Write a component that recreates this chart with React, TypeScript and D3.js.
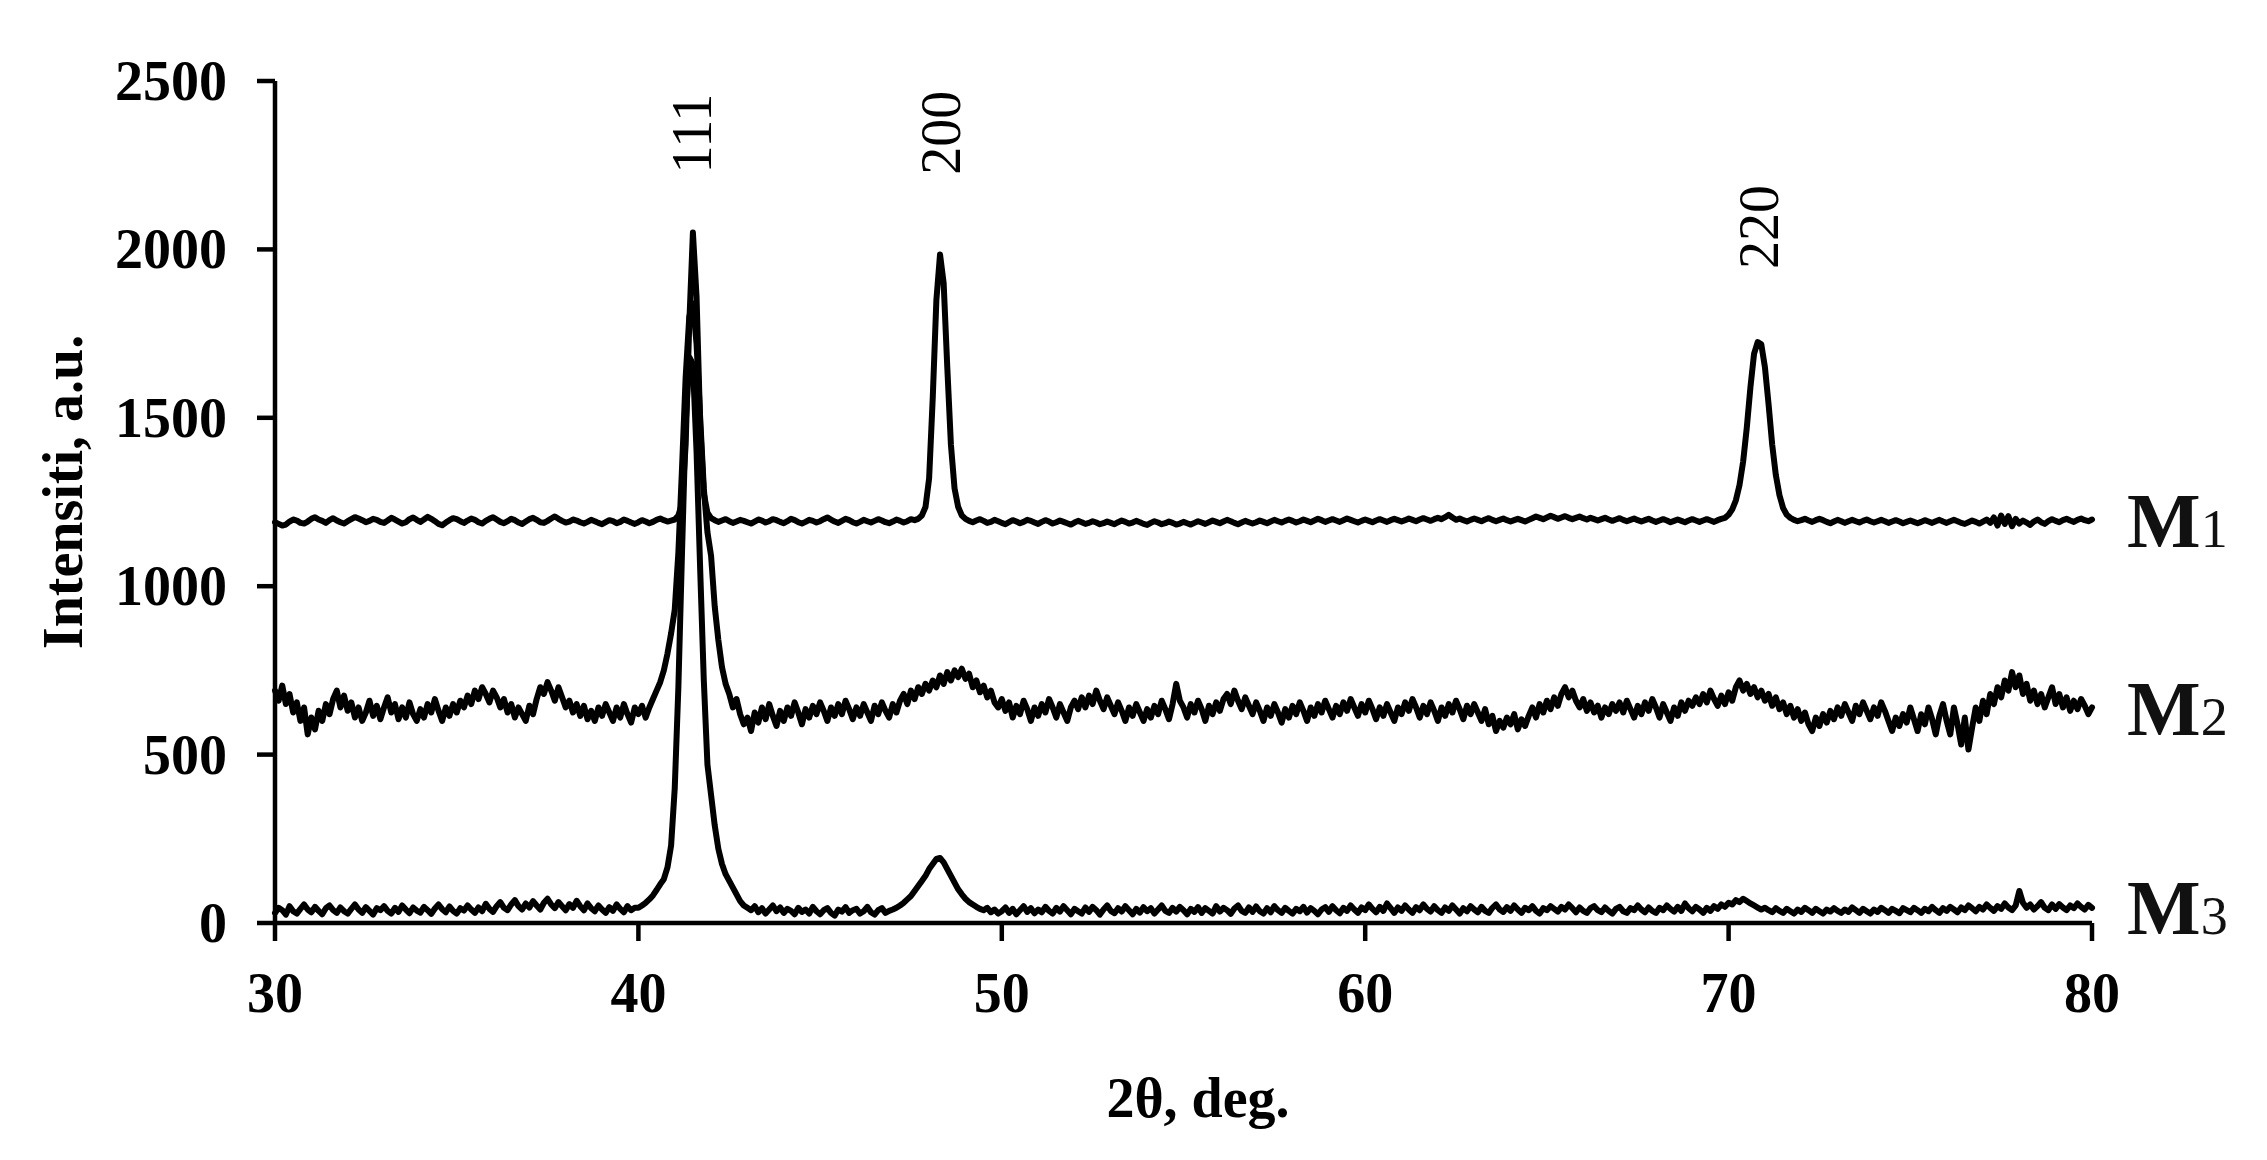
import * as d3 from 'd3';
import { useMemo } from 'react';

// 2θ sampling of the diffractometer scans
const START_ANGLE = 30;
const STEP = 0.1;

// M1 intensity, one row per degree (30.0 … 30.9, 31.0 …), last value at 80.0
const M1 = [
  1190, 1185, 1180, 1183, 1192, 1198, 1195, 1188, 1186, 1192,
  1200, 1205, 1198, 1194, 1188, 1196, 1202, 1195, 1190, 1186,
  1193, 1199, 1205, 1201, 1196, 1190, 1194, 1200, 1197, 1191,
  1188, 1195, 1203, 1198, 1192, 1186, 1190, 1199, 1204, 1197,
  1191, 1198, 1206, 1200, 1193, 1185, 1181, 1189, 1196, 1202,
  1199, 1193, 1188, 1195, 1201, 1197, 1190, 1186, 1194, 1200,
  1205, 1198, 1191, 1187, 1193, 1200, 1196, 1189, 1185, 1192,
  1199, 1203, 1197, 1190, 1188, 1194, 1201, 1207, 1200, 1194,
  1189, 1192, 1198, 1195, 1190, 1186, 1191, 1197, 1193, 1188,
  1184, 1190, 1196, 1193, 1187, 1191, 1198, 1194, 1189, 1185,
  1190, 1196, 1192, 1187, 1191, 1197, 1201, 1196, 1192, 1195,
  1198, 1210, 1245, 1420, 1780, 2050, 1860, 1480, 1275, 1218,
  1202, 1196, 1191, 1195, 1199, 1193, 1188, 1192, 1197, 1194,
  1190, 1186, 1192, 1198, 1195, 1189, 1193, 1199, 1196, 1191,
  1187, 1193, 1200, 1196, 1190, 1186, 1191, 1197, 1194, 1189,
  1193, 1199, 1204, 1198, 1192, 1188, 1194, 1200, 1196, 1190,
  1186, 1191, 1197, 1193, 1189, 1194, 1199, 1195, 1190, 1187,
  1192, 1198, 1194, 1189, 1193, 1199, 1196, 1200, 1210, 1235,
  1320, 1560, 1850, 1985, 1900, 1650, 1420, 1290, 1235, 1210,
  1200, 1194, 1190, 1195, 1199, 1194, 1188, 1191, 1197, 1193,
  1188, 1184, 1190, 1196, 1192, 1187, 1191, 1197, 1194, 1189,
  1185, 1191, 1196, 1192, 1186, 1190, 1195, 1191, 1187, 1183,
  1189, 1194, 1190, 1185, 1188, 1193, 1189, 1184, 1187, 1192,
  1188, 1184, 1190, 1195, 1191, 1186, 1189, 1194, 1190, 1185,
  1182, 1188, 1193, 1189, 1184, 1187, 1192, 1188, 1183, 1186,
  1191, 1187, 1183, 1188, 1193, 1189, 1185, 1190, 1195, 1191,
  1187, 1192, 1197, 1193, 1188, 1184, 1189, 1194, 1190, 1186,
  1190, 1195, 1191, 1187, 1192, 1197, 1193, 1189, 1194, 1198,
  1194, 1189, 1193, 1198, 1194, 1190, 1195, 1200, 1196, 1191,
  1195, 1199, 1195, 1191, 1196, 1201, 1197, 1193, 1189, 1194,
  1198, 1194, 1190, 1195, 1199, 1195, 1191, 1196, 1200, 1196,
  1192, 1196, 1201, 1197, 1193, 1198, 1202, 1198, 1194, 1199,
  1203, 1199, 1205, 1212, 1204, 1197, 1201, 1196, 1192, 1197,
  1201, 1197, 1193, 1198, 1202, 1197, 1193, 1197, 1201, 1196,
  1192, 1196, 1200, 1196, 1192, 1197, 1202, 1207, 1203, 1199,
  1204, 1209, 1205, 1200, 1204, 1208, 1203, 1199, 1203, 1207,
  1202, 1198, 1203, 1199, 1195, 1199, 1203, 1198, 1194, 1198,
  1202, 1197, 1193, 1197, 1201, 1196, 1192, 1196, 1200, 1195,
  1191, 1195, 1199, 1195, 1190, 1194, 1198, 1194, 1190, 1195,
  1199, 1195, 1191, 1195, 1199, 1195, 1191, 1196, 1200, 1203,
  1212, 1228, 1255, 1300, 1370, 1470, 1590, 1690, 1725, 1718,
  1650, 1540, 1420, 1330, 1270, 1232, 1212, 1203, 1197, 1193,
  1196, 1200, 1195, 1191, 1196, 1200, 1196, 1191, 1187, 1192,
  1197, 1193, 1188, 1193, 1197, 1193, 1189, 1194, 1198, 1193,
  1189, 1193, 1197, 1193, 1188, 1192, 1196, 1192, 1187, 1191,
  1195, 1191, 1187, 1191, 1196, 1192, 1188, 1193, 1197, 1192,
  1188, 1193, 1197, 1193, 1188, 1185, 1190, 1195, 1191, 1186,
  1192, 1198, 1188, 1204, 1180, 1210, 1185, 1208, 1178, 1200,
  1186, 1195, 1189, 1182, 1192, 1198, 1190, 1185, 1193, 1199,
  1194, 1190, 1196, 1200, 1195, 1191, 1197, 1201, 1196, 1193,
  1198,
];

const M2 = [
  690, 660, 705, 650, 680, 625, 655, 600, 640, 560,
  610, 575, 630, 600, 650, 620, 665, 690, 640, 675,
  630, 655, 610, 640, 600, 625, 660, 615, 645, 605,
  640, 670, 625, 650, 605, 640, 610, 655, 620, 600,
  635, 610, 650, 625, 665, 630, 600, 640, 615, 650,
  625, 660, 640, 675, 650, 690, 665, 700, 680, 655,
  690, 670, 640, 665, 625, 650, 610, 640, 620, 600,
  645, 620, 665, 700, 680, 715, 690, 660, 700, 670,
  640, 660, 625, 650, 615, 645, 605, 630, 600, 640,
  615, 650, 625, 600, 640, 610, 650, 620, 595, 640,
  620, 645, 610, 640, 665, 690, 715, 750, 800, 860,
  930, 1100, 1350, 1620, 1800, 1840, 1720, 1500, 1290, 1160,
  1090, 940, 840, 760, 710, 680, 640, 665, 620, 590,
  610, 570, 625, 595, 640, 605, 650, 615, 585, 630,
  600, 640, 615, 655, 625, 590, 635, 610, 645, 620,
  655, 630, 600, 640, 615, 650, 620, 660, 635, 605,
  640, 615, 650, 625, 600, 645, 620, 655, 630, 610,
  650, 625, 660, 680, 650, 690, 665, 700, 680, 710,
  690, 720, 700, 735, 710, 745, 720, 750, 730, 755,
  725, 740, 700, 720, 685, 705, 670, 690, 655, 640,
  665, 630, 655, 610, 645, 620, 660, 635, 600, 640,
  615, 650, 625, 665, 640, 610, 650, 625, 600, 640,
  660, 635, 670, 640, 675, 650, 690, 660, 635, 670,
  645, 620, 655, 630, 600, 640, 615, 650, 625, 600,
  635, 610, 645, 620, 660, 635, 605, 650, 710, 660,
  640, 610, 650, 625, 660, 635, 600, 645, 620, 655,
  630, 665, 680, 650, 690, 660, 635, 670, 645, 620,
  655, 630, 600, 640, 615, 650, 625, 595, 635, 610,
  645, 620, 655, 630, 600, 640, 615, 650, 625, 660,
  635, 610, 645, 620, 655, 630, 665, 640, 615, 650,
  625, 660, 635, 605, 640, 615, 650, 625, 600, 640,
  620, 655, 630, 665, 640, 610, 645, 620, 655, 630,
  600, 640, 615, 650, 625, 660, 635, 605, 645, 620,
  650, 625, 600, 635, 590, 615, 570, 600, 580, 610,
  590, 620, 575, 605, 585, 615, 640, 610, 650, 625,
  660, 635, 670, 645, 680, 700, 670, 690, 660, 640,
  665, 630, 655, 625, 645, 610, 640, 620, 650, 630,
  655, 625, 660, 635, 610, 645, 620, 655, 630, 665,
  640, 610, 650, 625, 600, 640, 615, 655, 630, 660,
  645, 670, 650, 680, 655, 690, 665, 645, 675, 650,
  685, 660, 700, 720, 690, 710, 680, 700, 670, 690,
  660, 680, 645, 670, 635, 655, 620, 645, 610, 635,
  600, 625, 590, 570, 610, 585, 620, 595, 630, 605,
  640, 615, 650, 625, 600, 645, 620, 655, 630, 605,
  640, 615, 655, 630, 600, 570, 610, 585, 620, 595,
  640, 605, 570, 620, 590, 640, 605, 560, 615, 650,
  600, 560, 640, 590, 530, 610, 515, 580, 640, 600,
  660, 620, 680, 650, 700, 670, 720, 690, 745, 700,
  735, 680, 710, 660, 690, 650, 680, 640, 670, 700,
  650, 680, 640, 670, 630, 660, 635, 665, 645, 620,
  640,
];

const M3 = [
  30, 45, 38, 25, 50, 35, 28, 42, 55, 40,
  32, 48, 36, 26, 44, 52, 38, 30, 46, 35,
  28, 42, 55, 40, 30, 47, 36, 25, 44, 38,
  50, 36, 28, 45, 33, 52, 40, 29, 46, 37,
  31, 48, 38, 27, 43, 55, 41, 32, 49, 36,
  28, 44, 37, 52, 40, 30, 46, 35, 57, 42,
  33, 50, 62, 45, 38, 55, 68, 50, 40, 58,
  46, 65, 52, 40, 60, 72, 55, 44, 62, 50,
  38, 56, 45, 66, 50, 38, 58, 44, 35, 52,
  40, 30, 47, 36, 55, 42, 32, 50, 38, 45,
  45, 52, 60, 70, 82, 98, 115, 130, 165, 230,
  400, 700, 1100, 1480, 1680, 1660, 1400, 1050, 720, 470,
  380, 290, 220, 175, 145, 125, 105, 85, 65, 52,
  45, 38, 50, 32, 44, 28, 40, 52, 35, 46,
  30, 42, 36, 26, 45, 33, 40, 28, 48, 35,
  26, 38, 44, 30, 22, 40, 34, 47, 30, 38,
  42, 28, 35, 48, 32, 25, 38, 44, 30, 36,
  40, 45, 52, 60, 70, 80, 95, 110, 125, 140,
  160, 175, 190, 193, 180, 160, 140, 120, 100, 85,
  72, 62, 55, 48, 42, 38, 45, 32, 40, 28,
  35, 46, 30, 42, 26, 38, 50, 33, 44, 29,
  40, 32, 48, 36, 28, 45, 34, 50, 38, 26,
  42, 35, 28, 46, 33, 48, 38, 25, 40, 52,
  36, 29, 44, 34, 50, 38, 26, 42, 31, 47,
  35, 44, 28, 40, 52, 36, 30, 45, 34, 48,
  38, 26, 42, 33, 47, 30, 44, 36, 28, 50,
  34, 45, 38, 27, 43, 52, 36, 30, 46, 33,
  49, 35, 28, 44, 32, 50, 38, 30, 45, 36,
  28, 42, 35, 48, 31, 44, 36, 26, 40, 47,
  33, 50, 38, 29, 45, 36, 52, 40, 30, 46,
  38, 55, 42, 32, 48, 36, 58, 44, 30, 46,
  36, 52, 40, 30, 47, 38, 55, 42, 34, 50,
  38, 30, 46, 36, 52, 40, 28, 44, 35, 50,
  40, 32, 48, 36, 30, 45, 55, 40, 33, 47,
  36, 52, 40, 30, 45, 38, 50, 36, 28, 44,
  38, 50, 42, 34, 48, 40, 55, 44, 32, 46,
  36, 30, 44, 50, 38, 32, 46, 36, 28, 42,
  48, 35, 30, 44, 38, 52, 40, 32, 46, 36,
  30, 45, 38, 52, 42, 34, 48, 36, 58, 44,
  35, 48, 40, 30, 45, 36, 50, 42, 55, 48,
  60, 55, 68, 62, 72, 65, 58, 52, 46, 40,
  45, 38, 32, 44, 36, 30, 42, 35, 28, 40,
  33, 45, 38, 30, 42, 35, 28, 40, 34, 44,
  36, 30, 40, 33, 46, 38, 30, 42, 35, 28,
  40, 33, 45, 38, 30, 42, 36, 29, 44, 38,
  32, 45, 38, 30, 42, 35, 48, 38, 30, 44,
  36, 48, 40, 32, 46, 38, 52, 44, 35, 48,
  40, 55, 45, 36, 50, 42, 58, 46, 38, 52,
  95, 60, 45, 55, 40, 50, 62, 45, 38, 55,
  42, 56, 46, 38, 52, 44, 58, 48, 40, 54,
  45,
];

const SERIES_NAMES = ['M1', 'M2', 'M3'];
const SERIES_LEVELS = [1195, 635, 45]; // intensity where each name sits
const SERIES = [M1, M2, M3];

const X_TICKS = [30, 40, 50, 60, 70, 80];
const Y_TICKS = [0, 500, 1000, 1500, 2000, 2500];

const PEAK_LABELS = ['111', '200', '220'];
const PEAK_ANGLES = [41.5, 48.35, 70.85];
const PEAK_LABEL_LEVELS = [2225, 2222, 1942];

const WIDTH = 2267;
const HEIGHT = 1160;
const MARGIN = { top: 81, right: 175, bottom: 237, left: 275 };
const FONT = '"Liberation Serif", "Times New Roman", Times, serif';

export default function App() {
  const innerW = WIDTH - MARGIN.left - MARGIN.right;
  const innerH = HEIGHT - MARGIN.top - MARGIN.bottom;

  const xScale = useMemo(
    () => d3.scaleLinear().domain([30, 80]).range([0, innerW]),
    [innerW]
  );
  const yScale = useMemo(
    () => d3.scaleLinear().domain([0, 2500]).range([innerH, 0]),
    [innerH]
  );

  const line = d3
    .line<number>()
    .x((_, i) => xScale(START_ANGLE + i * STEP))
    .y((d) => yScale(d));

  return (
    <svg
      width={WIDTH}
      height={HEIGHT}
      style={{ position: 'absolute', left: 0, top: 0, background: '#fff' }}
      fontFamily={FONT}
    >
      <g transform={`translate(${MARGIN.left},${MARGIN.top})`}>
        {/* traces */}
        {SERIES.map((s, k) => (
          <path
            key={SERIES_NAMES[k]}
            d={line(s) ?? ''}
            fill="none"
            stroke="#000"
            strokeWidth={6}
            strokeLinejoin="round"
            strokeLinecap="round"
          />
        ))}

        {/* Y axis */}
        <line x1={0} x2={0} y1={yScale(2500)} y2={yScale(0)} stroke="#000" strokeWidth={4.5} />
        {Y_TICKS.map((t) => (
          <g key={t} transform={`translate(0,${yScale(t)})`}>
            <line x1={-18} x2={0} stroke="#000" strokeWidth={4.5} />
            <text x={-48} dy="0.34em" textAnchor="end" fontSize={56} fontWeight="bold">
              {t}
            </text>
          </g>
        ))}

        {/* X axis */}
        <line x1={0} x2={innerW} y1={innerH} y2={innerH} stroke="#000" strokeWidth={4.5} />
        {X_TICKS.map((t) => (
          <g key={t} transform={`translate(${xScale(t)},${innerH})`}>
            <line y1={0} y2={18} stroke="#000" strokeWidth={4.5} />
            <text y={89} textAnchor="middle" fontSize={56} fontWeight="bold">
              {t}
            </text>
          </g>
        ))}

        {/* peak indices */}
        {PEAK_LABELS.map((p, i) => (
          <text
            key={p}
            transform={`translate(${xScale(PEAK_ANGLES[i])},${yScale(PEAK_LABEL_LEVELS[i])}) rotate(-90)`}
            dy="0.33em"
            fontSize={56}
          >
            {p}
          </text>
        ))}

        {/* series names */}
        {SERIES_NAMES.map((n, i) => (
          <text
            key={n}
            x={innerW + 35}
            y={yScale(SERIES_LEVELS[i])}
            dy={26}
            fill="#111"
          >
            <tspan fontSize={78} fontWeight="bold">{n[0]}</tspan>
            <tspan fontSize={54}>{n.slice(1)}</tspan>
          </text>
        ))}
      </g>

      {/* axis titles */}
      <text
        x={1198}
        y={1117}
        textAnchor="middle"
        fontSize={56}
        fontWeight="bold"
      >
        2θ, deg.
      </text>
      <text
        transform="translate(82,492) rotate(-90)"
        textAnchor="middle"
        fontSize={56}
        fontWeight="bold"
      >
        Intensiti, a.u.
      </text>
    </svg>
  );
}
